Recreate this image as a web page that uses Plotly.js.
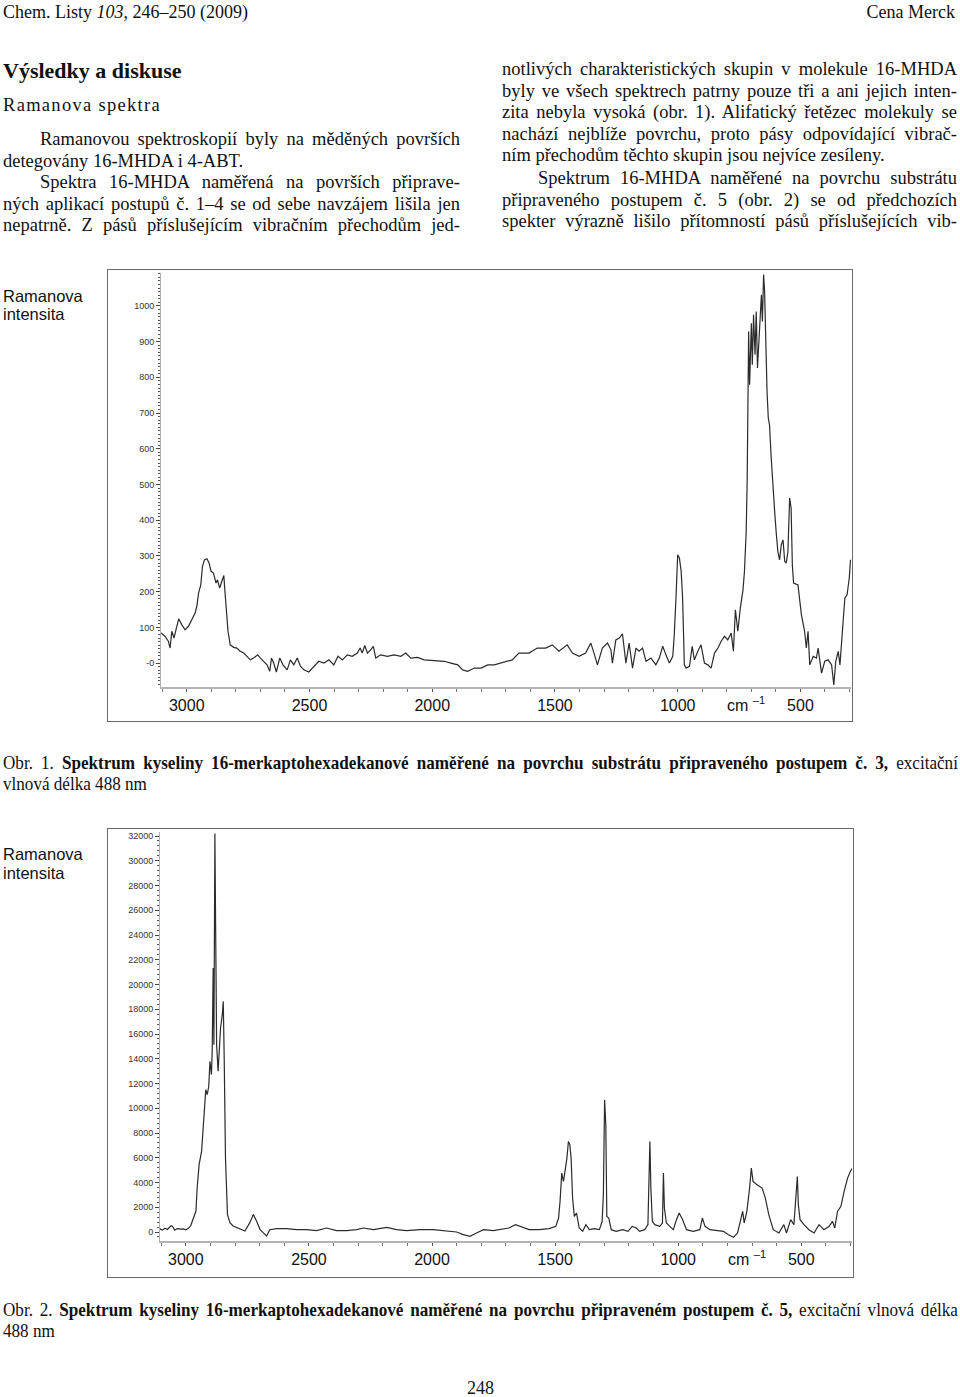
<!DOCTYPE html>
<html>
<head>
<meta charset="utf-8">
<script src="https://cdn.plot.ly/plotly-3.0.1.min.js"></script>
<style>
  html, body { margin:0; padding:0; background:#fff; }
  #page { position:relative; width:960px; height:1397px; overflow:hidden; background:#fff; color:#111; }
  .t { position:absolute; white-space:nowrap; font-family:'Liberation Serif','Times New Roman',serif; font-size:18.5px; line-height:1; }
  .j { text-align:justify; text-align-last:justify; }
  .cap { position:absolute; white-space:nowrap; font-family:'Liberation Serif','Times New Roman',serif; font-size:19px; line-height:1; transform-origin:0 0; transform:scaleX(0.9); }
  .sans { position:absolute; white-space:nowrap; font-family:'Liberation Sans',Arial,sans-serif; font-size:16.5px; line-height:1; color:#111; }
  .frame { position:absolute; box-sizing:border-box; border:1px solid #6a6a6a; }
  .plot { position:absolute; }
</style>
</head>
<body>
<div id="page">
  <div class="t" style="left:3px; top:3px; font-size:18px;">Chem. Listy <i>103</i>, 246–250 (2009)</div>
  <div class="t" style="right:5px; top:3px; font-size:18px;">Cena Merck</div>

  <div class="t" style="left:3px; top:60px; font-size:22px; font-weight:bold;">Výsledky a diskuse</div>
  <div class="t" style="left:3px; top:96px; letter-spacing:1.3px;">Ramanova spektra</div>

  <div class="t j" style="left:40px; width:420px; top:130px;">Ramanovou spektroskopií byly na měděných površích</div>
  <div class="t" style="left:3px; top:151.5px;">detegovány 16-MHDA i 4-ABT.</div>
  <div class="t j" style="left:40px; width:420px; top:173px;">Spektra 16-MHDA naměřená na površích připrave-</div>
  <div class="t j" style="left:3px; width:457px; top:194.5px;">ných aplikací postupů č. 1–4 se od sebe navzájem lišila jen</div>
  <div class="t j" style="left:3px; width:457px; top:216px;">nepatrně. Z pásů příslušejícím vibračním přechodům jed-</div>

  <div class="t j" style="left:502px; width:455px; top:60px;">notlivých charakteristických skupin v molekule 16-MHDA</div>
  <div class="t j" style="left:502px; width:455px; top:82px;">byly ve všech spektrech patrny pouze tři a ani jejich inten-</div>
  <div class="t j" style="left:502px; width:455px; top:103px;">zita nebyla vysoká (obr. 1). Alifatický řetězec molekuly se</div>
  <div class="t j" style="left:502px; width:455px; top:124.5px;">nachází nejblíže povrchu, proto pásy odpovídající vibrač-</div>
  <div class="t" style="left:502px; top:146px;">ním přechodům těchto skupin jsou nejvíce zesíleny.</div>
  <div class="t j" style="left:538px; width:419px; top:168.5px;">Spektrum 16-MHDA naměřené na povrchu substrátu</div>
  <div class="t j" style="left:502px; width:455px; top:190.5px;">připraveného postupem č. 5 (obr. 2) se od předchozích</div>
  <div class="t j" style="left:502px; width:455px; top:212px;">spekter výrazně lišilo přítomností pásů příslušejících vib-</div>

  <div class="frame" style="left:107px; top:269px; width:746px; height:453px;"></div>
  <div id="chart1" class="plot" style="left:108px; top:270px; width:744px; height:451px;"></div>
  <div class="sans" style="left:3px; top:288px;">Ramanova</div>
  <div class="sans" style="left:3px; top:306px;">intensita</div>

  <div class="cap j" style="left:3px; top:753px; width:1061px;">Obr. 1. <b>Spektrum kyseliny 16-merkaptohexadekanové naměřené na povrchu substrátu připraveného postupem č. 3,</b> excitační</div>
  <div class="cap" style="left:3px; top:774px;">vlnová délka 488 nm</div>

  <div class="frame" style="left:107px; top:828px; width:747px; height:450px;"></div>
  <div id="chart2" class="plot" style="left:108px; top:829px; width:745px; height:448px;"></div>
  <div class="sans" style="left:3px; top:846px;">Ramanova</div>
  <div class="sans" style="left:3px; top:865px;">intensita</div>

  <div class="cap j" style="left:3px; top:1300px; width:1061px;">Obr. 2. <b>Spektrum kyseliny 16-merkaptohexadekanové naměřené na povrchu připraveném postupem č. 5,</b> excitační vlnová délka</div>
  <div class="cap" style="left:3px; top:1321px;">488 nm</div>

  <div class="t" style="left:467px; top:1379px; font-size:18px;">248</div>
</div>

<script>
// ---------- DATA ----------
const xTickVals = [3000, 2500, 2000, 1500, 1000, 500];
const xTickText = ['3000', '2500', '2000', '1500', '1000', '500'];

const fig1YTickVals = [0, 100, 200, 300, 400, 500, 600, 700, 800, 900, 1000];
const fig1YTickText = ['-0', '100', '200', '300', '400', '500', '600', '700', '800', '900', '1000'];

const fig2YTickVals = [0, 2000, 4000, 6000, 8000, 10000, 12000, 14000, 16000, 18000, 20000, 22000, 24000, 26000, 28000, 30000, 32000];
const fig2YTickText = ['0', '2000', '4000', '6000', '8000', '10000', '12000', '14000', '16000', '18000', '20000', '22000', '24000', '26000', '28000', '30000', '32000'];

// Obr. 1 — wavenumber (cm-1) and Raman intensity
const spec1Wavenumber = [
  3105,3089,3075,3068,3061,3052,3044,3033,3020,3007,
  2993,2980,2966,2959,2952,2943,2936,2928,2918,2909,
  2901,2891,2881,2875,2866,2857,2849,2845,2839,2832,
  2823,2809,2796,2782,2768,2755,2741,2728,2711,2700,
  2687,2673,2662,2655,2646,2635,2621,2608,2591,2578,
  2564,2550,2537,2523,2503,2482,2462,2441,2421,2401,
  2384,2366,2346,2326,2305,2294,2285,2275,2264,2251,
  2240,2230,2210,2183,2155,2128,2108,2087,2060,2033,
  2005,1978,1951,1924,1896,1876,1856,1828,1801,1774,
  1747,
  1674,1647,1606,1572,1538,1511,1484,1450,1429,1402,
  1375,1354,1341,1327,1307,1286,1272,1266,1252,1238,
  1225,1211,1198,1184,1170,1157,1143,1129,1109,1089,
  1075,1061,1048,1034,1020,1014,1007,1000,993,986,
  980,973,966,952,941,932,918,905,891,877,
  864,850,836,823,809,796,782,773,765,755,
  745,734,728,721,717,711,707,700,696,691,
  685,680,675,667,659,655,650,646,642,636,
  631,626,619,612,605,598,592,585,578,571,
  564,558,551,544,538,533,528,510,496,483,
  476,469,462,448,435,428,421,414,401,387,
  373,364,356,346,339,329,319,310,301,296
];
const spec1Intensity = [
  84,75,61,42,89,70,93,124,107,93,
  103,121,140,159,196,219,271,289,292,280,
  257,252,224,233,210,229,245,205,154,89,
  51,44,42,33,28,19,9,14,23,14,
  5,-5,-23,14,0,-25,14,-5,-19,9,
  -5,14,-9,-19,-25,-9,5,0,9,-5,
  19,9,23,19,28,42,28,49,28,37,
  47,14,23,19,23,19,28,14,16,9,
  7,5,5,0,-5,-19,-23,-14,-14,-5,
  -5,
  9,28,28,42,42,51,33,51,28,19,
  28,56,28,-5,42,56,37,0,65,70,
  82,0,56,-14,42,33,42,5,14,-5,
  14,47,23,0,19,79,182,303,294,257,
  182,-5,-14,-9,47,9,33,51,0,-5,
  -14,28,42,61,75,65,84,33,149,89,
  154,205,257,368,508,928,779,951,835,975,
  863,984,826,947,1031,956,1088,1040,891,760,
  686,667,574,480,424,359,312,289,331,345,
  285,280,312,462,434,275,224,219,135,89,
  42,89,-5,19,14,42,0,-28,5,9,
  -5,-61,5,33,-5,79,182,191,238,289
];

// Obr. 2 — wavenumber (cm-1) and Raman intensity
const spec2Wavenumber = [
  3106,3095,3085,3075,3060,3054,3045,3035,3020,3010,
  3000,2990,2980,2970,2959,2954,2946,2936,2930,2923,
  2919,2913,2907,2902,2898,2896,2893,2889,2886,2882,
  2879,2875,2869,2865,2859,2852,2848,2844,2839,2831,
  2821,2808,2794,2781,2760,2740,2726,2713,2699,2686,
  2672,2659,2631,2591,2550,2510,2469,2428,2388,2347,
  2306,2279,2238,2184,2144,2103,2049,1995,1940,1900,
  1873,1846,1819,1791,1751,1688,1661,1640,1606,1565,
  1524,1497,1486,1480,1473,1466,1459,1452,1446,1440,
  1435,1429,1422,1413,1402,1388,1375,1361,1341,1320,
  1309,1304,1299,1294,1290,1282,1272,1252,1225,1204,
  1187,1170,1157,1136,1123,1119,1115,1111,1105,1095,
  1075,1064,1060,1056,1048,1034,1020,1007,996,982,
  966,939,912,902,891,871,843,816,796,775,
  759,745,738,732,721,710,703,696,680,659,
  646,632,614,591,571,560,543,530,521,516,
  512,505,489,469,448,428,408,387,373,364,
  353,339,326,312,301,292
];
const spec2Intensity = [
  250,150,300,200,500,450,150,280,230,250,
  180,300,520,1022,1694,3576,5459,6534,8417,10703,
  11510,11106,11778,13795,13257,12719,14548,21324,15139,32200,
  24551,15139,12988,14602,16484,17560,18635,13795,5996,1425,
  753,484,350,215,81,753,1425,887,215,-54,
  -323,188,269,269,188,188,108,323,108,108,
  188,323,188,376,188,108,188,188,54,0,
  -215,-350,-81,188,108,323,592,457,188,188,
  269,457,1129,2474,4760,4087,4894,5970,7314,7045,
  5970,2743,1264,1533,323,54,592,188,269,188,
  861,3012,10676,8659,1264,1129,188,54,188,54,
  457,323,54,188,592,5432,7314,3549,861,592,
  457,726,4760,1936,726,457,188,995,1533,995,
  188,54,188,1129,457,188,108,54,-215,-430,
  -81,995,1667,726,1667,3549,5163,4087,3818,3549,
  2743,1398,188,-81,592,-81,995,592,2743,4491,
  2205,995,592,188,-81,592,188,457,861,323,
  1667,2071,3281,4356,4894,5163
];

// ---------- CHARTS ----------
function makeLayout(w, h, margin, yRange, yVals, yText, yMinor, xRange) {
  return {
    width: w, height: h,
    margin: margin,
    paper_bgcolor: '#ffffff', plot_bgcolor: '#ffffff',
    showlegend: false,
    xaxis: {
      range: xRange, autorange: false,
      tickmode: 'array', tickvals: xTickVals, ticktext: xTickText,
      showline: true, linecolor: '#b4b4b4', linewidth: 2,
      ticks: 'outside', ticklen: 3, tickwidth: 1, tickcolor: '#555',
      tickfont: {family: 'Liberation Sans, Arial, sans-serif', size: 16, color: '#111'},
      ticklabelstandoff: 0,
      minor: {dtick: 100, tick0: 0, ticks: 'outside', ticklen: 3, tickwidth: 1, tickcolor: '#777', showgrid: false},
      showgrid: false, zeroline: false, fixedrange: true
    },
    yaxis: {
      range: yRange, autorange: false,
      tickmode: 'array', tickvals: yVals, ticktext: yText,
      showline: true, linecolor: '#b0b0b0', linewidth: 1,
      ticks: 'outside', ticklen: 4, tickwidth: 1, tickcolor: '#444',
      tickfont: {family: 'Liberation Sans, Arial, sans-serif', size: 9, color: '#333'},
      minor: {dtick: yMinor, tick0: 0, ticks: 'outside', ticklen: 2, tickwidth: 1, tickcolor: '#555', showgrid: false},
      showgrid: false, zeroline: false, fixedrange: true
    },
    annotations: [{
      xref: 'x', yref: 'paper', x: 720, y: 0,
      text: 'cm <sup>–1</sup>', showarrow: false,
      xanchor: 'center', yanchor: 'top', yshift: -5,
      font: {family: 'Liberation Sans, Arial, sans-serif', size: 16, color: '#111'}
    }]
  };
}

const lineStyle = {color: '#2b2b2b', width: 1.2, shape: 'linear'};

Plotly.newPlot('chart1', [{
  x: spec1Wavenumber, y: spec1Intensity, type: 'scatter', mode: 'lines',
  line: lineStyle, hoverinfo: 'skip'
}], makeLayout(744, 451, {l: 53, r: 1, t: 3, b: 34}, [-67, 1092], fig1YTickVals, fig1YTickText, 10, [3105, 294]),
{staticPlot: true, displayModeBar: false});

Plotly.newPlot('chart2', [{
  x: spec2Wavenumber, y: spec2Intensity, type: 'scatter', mode: 'lines',
  line: lineStyle, hoverinfo: 'skip'
}], makeLayout(745, 448, {l: 52, r: 1, t: 3, b: 36}, [-727, 32323], fig2YTickVals, fig2YTickText, 400, [3105, 294]),
{staticPlot: true, displayModeBar: false});
</script>
</body>
</html>
